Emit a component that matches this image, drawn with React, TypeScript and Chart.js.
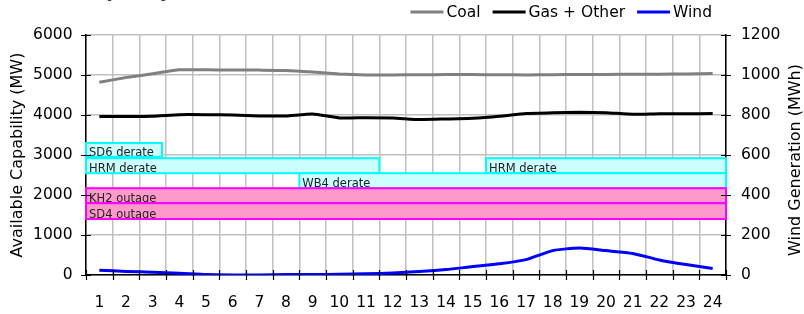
import { useEffect, useRef } from 'react';
import { Chart, registerables } from 'chart.js';

Chart.register(...registerables);

const FONT = "'DejaVu Sans', 'Liberation Sans', sans-serif";

// ---- data ----
const hours = ['1', '2', '3', '4', '5', '6', '7', '8', '9', '10', '11', '12', '13', '14', '15', '16', '17', '18', '19', '20', '21', '22', '23', '24'];
const coalMW = [4820, 4935, 5030, 5130, 5130, 5125, 5122, 5115, 5075, 5025, 5003, 5003, 5008, 5010, 5010, 5008, 5003, 5008, 5012, 5015, 5020, 5020, 5028, 5035];
const gasOtherMW = [3962, 3962, 3968, 4008, 4008, 4000, 3978, 3978, 4025, 3928, 3933, 3928, 3885, 3900, 3918, 3968, 4040, 4055, 4070, 4058, 4018, 4033, 4033, 4035];
const windMWh = [24, 18, 14, 9, 2, 0, 0, 2, 2, 4, 6, 10, 17, 27, 42, 56, 77, 122, 135, 122, 108, 75, 52, 33];

const leftTicksMW = [0, 1000, 2000, 3000, 4000, 5000, 6000];
const rightTicksMWh = [0, 200, 400, 600, 800, 1000, 1200];

const eventLabels = ['SD6 derate', 'HRM derate', 'HRM derate', 'WB4 derate', 'KH2 outage', 'SD4 outage'];
const eventType = ['derate', 'derate', 'derate', 'derate', 'outage', 'outage'];
const eventStartHour = [0, 0, 15, 8, 0, 0];
const eventEndHour = [2.85, 11, 24, 24, 24, 24];
const eventTopMW = [3300, 2920, 2920, 2545, 2170, 1795];
const eventBottomMW = [2955, 2545, 2545, 2170, 1795, 1400];

const leftTitle = 'Available Capability (MW)';
const rightTitle = 'Wind Generation (MWh)';
const chartTitle = 'Capacity';

const eventsPlugin = {
  id: 'events',
  beforeDatasetsDraw(chart: any) {
    const { ctx, scales } = chart;
    const xs = scales.x;
    const ys = scales.y;
    ctx.save();
    for (let i = 0; i < eventLabels.length; i++) {
      const x1 = xs.getPixelForValue(eventStartHour[i] - 0.5);
      const x2 = xs.getPixelForValue(eventEndHour[i] - 0.5);
      const y1 = ys.getPixelForValue(eventTopMW[i]);
      const y2 = ys.getPixelForValue(eventBottomMW[i]);
      const isDerate = eventType[i] === 'derate';
      ctx.fillStyle = isDerate ? '#ccffff' : '#ff99cc';
      ctx.fillRect(x1, y1, x2 - x1, y2 - y1);
      ctx.save();
      ctx.beginPath();
      ctx.rect(x1, y1, x2 - x1, y2 - y1);
      ctx.clip();
      ctx.fillStyle = '#222222';
      ctx.font = `11.5px ${FONT}`;
      ctx.textAlign = 'left';
      ctx.textBaseline = 'alphabetic';
      ctx.fillText(eventLabels[i], x1 + 3, y2 - 1);
      ctx.restore();
      ctx.strokeStyle = isDerate ? '#00ffff' : '#ff00ff';
      ctx.lineWidth = 2;
      ctx.strokeRect(x1, y1, x2 - x1, y2 - y1);
    }
    ctx.restore();
  },
};

const decorPlugin = {
  id: 'decor',
  afterDraw(chart: any) {
    const { ctx, scales, chartArea } = chart;
    const xs = scales.x;
    const ys = scales.y;
    const ys1 = scales.y1;
    ctx.save();
    // crossing tick marks
    ctx.strokeStyle = '#000';
    ctx.lineWidth = 1.2;
    ctx.beginPath();
    for (const v of leftTicksMW) {
      const py = Math.round(ys.getPixelForValue(v)) + 0.5;
      ctx.moveTo(chartArea.left - 5, py);
      ctx.lineTo(chartArea.left + 5, py);
    }
    for (const v of rightTicksMWh) {
      const py = Math.round(ys1.getPixelForValue(v)) + 0.5;
      ctx.moveTo(chartArea.right - 5, py);
      ctx.lineTo(chartArea.right + 5, py);
    }
    for (let i = 0; i <= hours.length; i++) {
      const px = Math.round(xs.getPixelForValue(i - 0.5)) + 0.5;
      ctx.moveTo(px, chartArea.bottom - 5);
      ctx.lineTo(px, chartArea.bottom + 5);
    }
    ctx.stroke();

    // axis titles
    ctx.fillStyle = '#000';
    ctx.font = `16px ${FONT}`;
    ctx.textAlign = 'center';
    ctx.textBaseline = 'alphabetic';
    const cy = (chartArea.top + chartArea.bottom) / 2;
    ctx.save();
    ctx.translate(22, cy);
    ctx.rotate(-Math.PI / 2);
    ctx.fillText(leftTitle, 0, 0);
    ctx.restore();
    ctx.save();
    ctx.translate(800, cy + 5);
    ctx.rotate(-Math.PI / 2);
    ctx.fillText(rightTitle, 0, 0);
    ctx.restore();

    // legend
    ctx.font = `15.5px ${FONT}`;
    ctx.textAlign = 'left';
    ctx.textBaseline = 'middle';
    const dsets = chart.data.datasets;
    const lineLen = 33;
    const gap = 3;
    const itemGap = 12;
    let total = 0;
    dsets.forEach((d: any, i: number) => {
      total += lineLen + gap + ctx.measureText(d.label).width + (i > 0 ? itemGap : 0);
    });
    let x = chartArea.right - 14 - total;
    const ly = 12;
    dsets.forEach((d: any) => {
      ctx.strokeStyle = d.borderColor;
      ctx.lineWidth = 3;
      ctx.beginPath();
      ctx.moveTo(x, ly);
      ctx.lineTo(x + lineLen, ly);
      ctx.stroke();
      x += lineLen + gap;
      ctx.fillStyle = '#000';
      ctx.fillText(d.label, x, ly + 1);
      x += ctx.measureText(d.label).width + itemGap;
    });

    // chart title (mostly above the visible area)
    ctx.font = `bold 19px ${FONT}`;
    ctx.fillStyle = '#333399';
    ctx.textBaseline = 'alphabetic';
    ctx.fillText(chartTitle, 79.5, -3.5);
    ctx.restore();
  },
};

export default function App() {
  const ref = useRef<HTMLCanvasElement>(null);
  useEffect(() => {
    const canvas = ref.current!;
    const tickFont = { family: FONT, size: 15.5 };
    const plain = (v: any) => String(v);
    const chart = new Chart(canvas, {
      type: 'line',
      data: {
        labels: hours,
        datasets: [
          { label: 'Coal', data: coalMW, borderColor: '#808080', backgroundColor: '#808080', borderWidth: 3, yAxisID: 'y', pointRadius: 0, tension: 0.15 },
          { label: 'Gas + Other', data: gasOtherMW, borderColor: '#000000', backgroundColor: '#000000', borderWidth: 3, yAxisID: 'y', pointRadius: 0, tension: 0.15 },
          { label: 'Wind', data: windMWh, borderColor: '#0000ff', backgroundColor: '#0000ff', borderWidth: 3, yAxisID: 'y1', pointRadius: 0, tension: 0.2 },
        ],
      },
      options: {
        responsive: false,
        animation: false,
        layout: { padding: { top: 35, left: 0, right: 0, bottom: 0 } },
        plugins: { legend: { display: false }, tooltip: { enabled: false }, title: { display: false } },
        scales: {
          x: {
            type: 'category',
            offset: true,
            grid: { offset: true, color: '#c0c0c0', lineWidth: 1.5, drawTicks: false },
            border: { color: '#000', width: 1.5 },
            ticks: { color: '#000', font: tickFont, padding: 19, maxRotation: 0, autoSkip: false },
            afterFit: (s: any) => { s.height = 39; },
          },
          y: {
            position: 'left',
            min: 0,
            max: 6000,
            ticks: { stepSize: 1000, color: '#000', font: tickFont, padding: 13.5, callback: plain },
            grid: { color: '#c0c0c0', lineWidth: 1.5, drawTicks: false },
            border: { color: '#000', width: 1.5 },
            afterFit: (s: any) => { s.width = 86; },
          },
          y1: {
            position: 'right',
            min: 0,
            max: 1200,
            ticks: { stepSize: 200, color: '#000', font: tickFont, padding: 15, callback: plain },
            grid: { drawOnChartArea: false, drawTicks: false },
            border: { color: '#000', width: 1.5 },
            afterFit: (s: any) => { s.width = 78; },
          },
        },
      } as any,
      plugins: [eventsPlugin, decorPlugin],
    });
    return () => chart.destroy();
  }, []);
  return (
    <div style={{ position: 'absolute', left: 0, top: 0, width: 804, height: 314, background: '#fff' }}>
      <canvas ref={ref} width={804} height={314} style={{ display: 'block' }} />
    </div>
  );
}
